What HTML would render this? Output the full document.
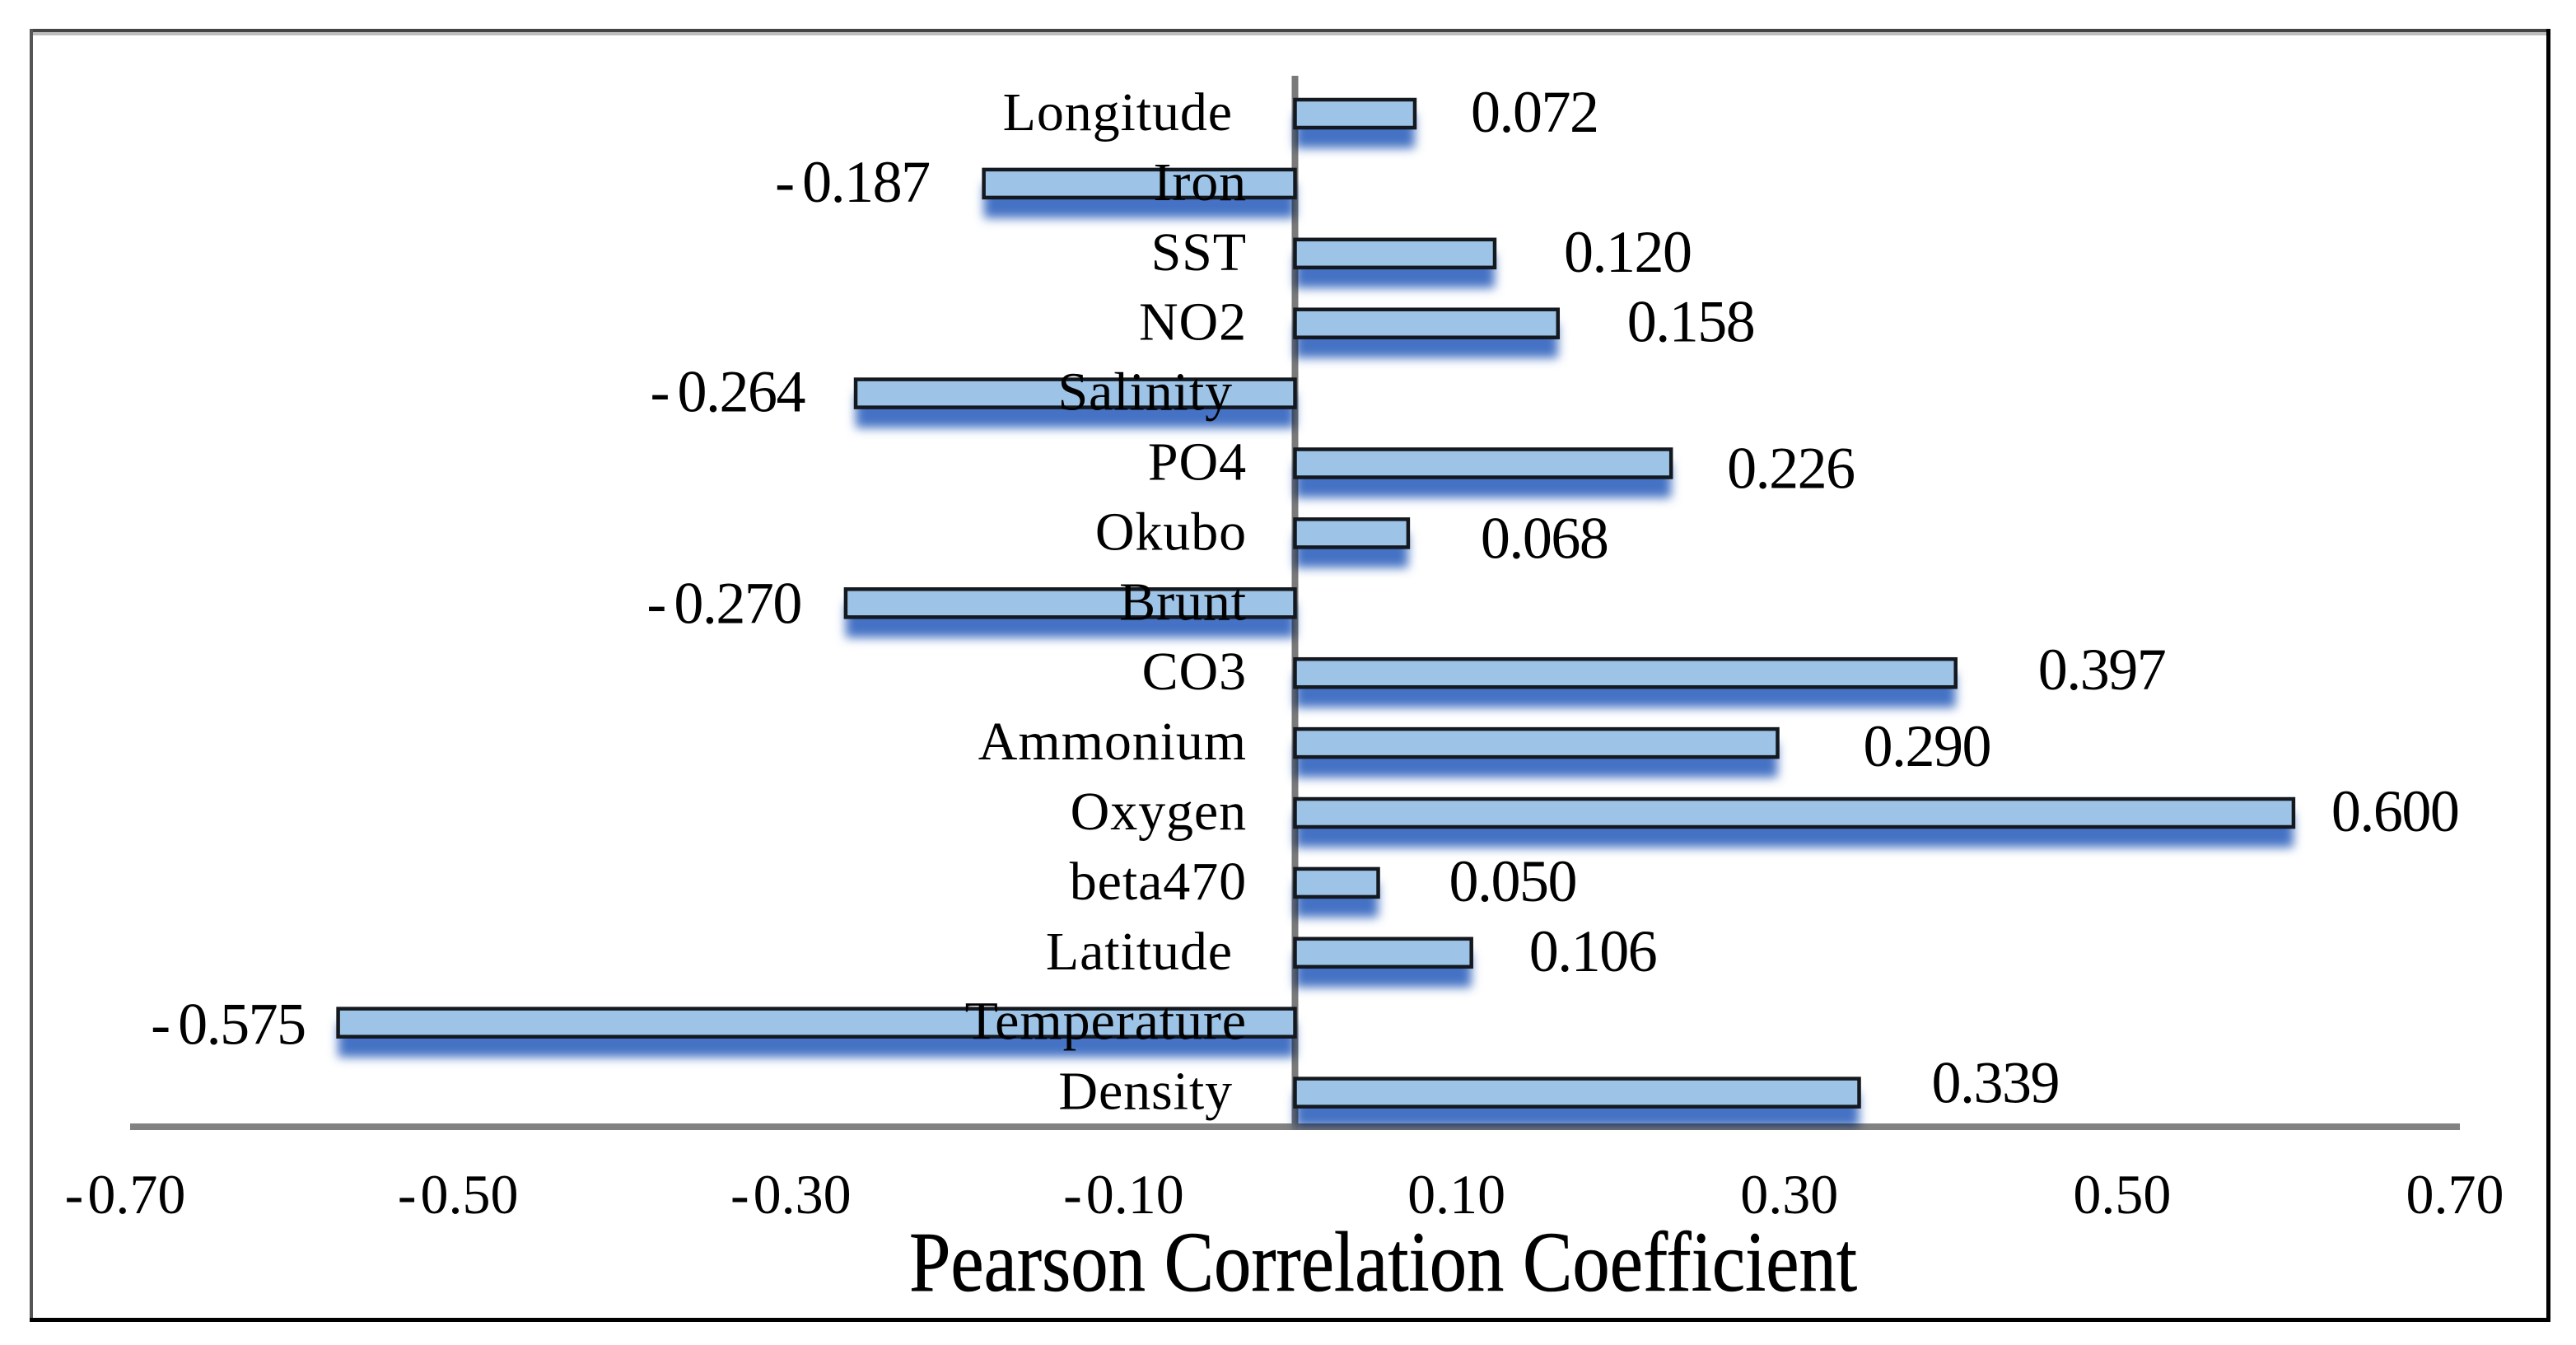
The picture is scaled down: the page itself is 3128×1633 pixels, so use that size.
<!DOCTYPE html>
<html lang="en">
<head>
<meta charset="utf-8">
<title>Pearson Correlation Coefficient</title>
<style>
html,body{margin:0;padding:0;background:#fff;}
svg{display:block;font-family:"Liberation Serif",serif;}
#shadows{mix-blend-mode:multiply;}
</style>
</head>
<body>
<svg id="chart" xmlns="http://www.w3.org/2000/svg" width="3128" height="1633" viewBox="0 0 3128 1633">
  <defs>
    <filter id="soft" x="-30%" y="-100%" width="160%" height="300%"><feGaussianBlur stdDeviation="6"/></filter>
    <clipPath id="plot-clip"><rect x="0" y="0" width="3128" height="1372"/></clipPath>
  </defs>
  <rect width="3128" height="1633" fill="#fff"/>
  <g>
    <rect x="36" y="39" width="3060" height="4" fill="#bdbdbd"/>
    <rect x="36" y="35" width="3060" height="4" fill="#444"/>
    <rect x="36" y="35" width="4" height="1570" fill="#555"/>
    <rect x="36" y="1600" width="3061" height="5" fill="#000"/>
    <rect x="3092" y="35" width="5" height="1570" fill="#000"/>
  </g>
  <g id="axes"></g>
  <g id="shadows" clip-path="url(#plot-clip)"></g>
  <g id="bars"></g>
  <g id="labels"></g>
  <text x="1104" y="1567" font-size="104" textLength="1151" lengthAdjust="spacingAndGlyphs" fill="#000" stroke="#000" stroke-width="0.6">Pearson Correlation Coefficient</text>
</svg>
<script>
const categories = ["Longitude","Iron","SST","NO2","Salinity","PO4","Okubo","Brunt","CO3","Ammonium","Oxygen","beta470","Latitude","Temperature","Density"];
const correlations = [0.072,-0.187,0.120,0.158,-0.264,0.226,0.068,-0.270,0.397,0.290,0.600,0.050,0.106,-0.575,0.339];
const xTicks = [-0.70,-0.50,-0.30,-0.10,0.10,0.30,0.50,0.70];

(function () {
  const NS = "http://www.w3.org/2000/svg";
  const axisMin = -0.7, axisMax = 0.7, axisLeft = 158, axisRight = 2987;
  const firstRow = 138, rowStep = 84.9, barHeight = 34;
  const x = v => axisLeft + (v - axisMin) / (axisMax - axisMin) * (axisRight - axisLeft);
  const y = i => firstRow + i * rowStep;
  const slug = s => s.toLowerCase();
  const shifted = new Set(["Longitude","Salinity","Latitude","Density"]);
  // Hand-placed data label nudges from the picture: horizontal gap from the bar end, vertical shift from the row.
  const valueGaps = [68,66,84,84,62,68,88,54,100,104,46,86,70,40,88];
  const valueShifts = [0,0,0,0,0,8,8,2,-2,6,0,0,0,4,-10];

  function make(tag, attrs, parent, text) {
    const el = document.createElementNS(NS, tag);
    for (const k in attrs) el.setAttribute(k, attrs[k]);
    if (text !== undefined) el.textContent = text;
    parent.appendChild(el);
    return el;
  }

  // Reference draws a wider minus sign than the plain hyphen.
  function fillNumber(el, str, gap) {
    if (str[0] === "-") {
      const m = document.createElementNS(NS, "tspan");
      m.setAttribute("letter-spacing", gap);
      m.textContent = "-";
      el.appendChild(m);
      el.appendChild(document.createTextNode(str.slice(1)));
    } else {
      el.textContent = str;
    }
  }

  const axes = document.getElementById("axes");
  const shadows = document.getElementById("shadows");
  const bars = document.getElementById("bars");
  const labels = document.getElementById("labels");

  const xLine = make("rect", {x: axisLeft, y: 1364, width: axisRight - axisLeft, height: 8, fill: "#828282"}, axes);
  
  
  const yLine = make("rect", {x: x(0) - 4, y: 92, width: 8, height: 1280, fill: "#7a7a7a"}, axes);
  
  

  xTicks.forEach(t => {
    const tick = make("text", {x: x(t) - 6, y: 1473, "font-size": 68, "text-anchor": "middle", fill: "#000"}, labels);
    fillNumber(tick, t.toFixed(2), 5);
    
    
  });

  categories.forEach((name, i) => {
    const v = correlations[i];
    const x0 = Math.min(x(0), x(v));
    const w = Math.abs(x(v) - x(0));
    const c = y(i);

    const shadow = make("rect", {x: x0, y: c, width: w, height: 42, fill: "#4472c4", filter: "url(#soft)"}, shadows);
    
    

    const bar = make("rect", {x: x0, y: c - barHeight / 2, width: w, height: barHeight, fill: "#9dc3e6", stroke: "#14181f", "stroke-width": 4.5}, bars);
    
    

    const labelRight = shifted.has(name) ? 1497 : 1514;
    const label = make("text", {x: labelRight, y: c + 20, "font-size": 66, "letter-spacing": 0.9, "text-anchor": "end", fill: "#000"}, labels, name);
    
    

    const vx = v >= 0 ? x(v) + valueGaps[i] : x(v) - valueGaps[i];
    const value = make("text", {x: vx, y: c + 22 + valueShifts[i], "font-size": 72, "letter-spacing": -1.5, "text-anchor": v >= 0 ? "start" : "end", fill: "#000"}, labels);
    fillNumber(value, v.toFixed(3), 9);
    
    
  });
})();
</script>
</body>
</html>
